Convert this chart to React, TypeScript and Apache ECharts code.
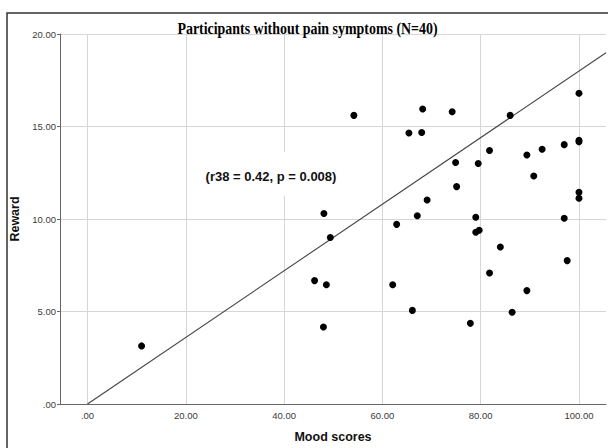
import React, { useEffect, useRef } from "react";
import * as echarts from "echarts";

const moodScores: number[] = [
  11.0, 46.2, 48.0, 48.1, 48.6, 49.4, 54.2, 62.1, 62.9, 65.4,
  66.1, 67.1, 68.0, 68.2, 69.1, 74.2, 74.9, 75.1, 77.9, 79.0,
  79.0, 79.5, 79.7, 81.8, 81.8, 84.0, 86.0, 86.4, 89.4, 89.4,
  90.8, 92.5, 97.0, 97.0, 97.6, 100.0, 100.0, 100.0, 100.0, 100.0,
];
const rewards: number[] = [
  3.14, 6.67, 4.16, 10.3, 6.45, 9.0, 15.6, 6.45, 9.71, 14.65,
  5.06, 10.18, 14.68, 15.95, 11.03, 15.8, 13.05, 11.75, 4.36, 10.09,
  9.28, 13.0, 9.39, 13.7, 7.08, 8.49, 15.6, 4.96, 13.46, 6.13,
  12.32, 13.77, 14.02, 10.04, 7.75, 16.8, 14.18, 14.25, 11.44, 11.12,
];
const fitLineX: number[] = [0, 105.5];
const fitLineY: number[] = [0, 18.99];
const xTicks: number[] = [0, 20, 40, 60, 80, 100];

const title = "Participants without pain symptoms (N=40)";
const annotation = "(r38 = 0.42, p = 0.008)";
const xName = "Mood scores";
const yName = "Reward";

const fmt = (v: number) => (v === 0 ? ".00" : v.toFixed(2));

export default function App() {
  const ref = useRef<HTMLDivElement>(null);
  useEffect(() => {
    if (!ref.current) return;
    const chart = echarts.init(ref.current, null, { renderer: "svg" });
    const points = moodScores.map((x, i) => [x, rewards[i]]);
    const line = fitLineX.map((x, i) => [x, fitLineY[i]]);
    chart.setOption({
      animation: false,
      backgroundColor: "#ffffff",
      grid: { left: 60, top: 34, width: 546, height: 370, containLabel: false },
      xAxis: {
        type: "value",
        min: -5.6,
        max: 105.5,
        name: xName,
        nameLocation: "middle",
        nameGap: 26,
        nameTextStyle: { fontFamily: "Liberation Sans", fontWeight: "bold", fontSize: 12.5, color: "#111" },
        axisLine: { onZero: false, lineStyle: { color: "#666", width: 1 } },
        axisTick: { show: false, customValues: xTicks },
        axisLabel: {
          customValues: xTicks,
          formatter: (v: number) => fmt(v),
          fontFamily: "Liberation Sans",
          fontSize: 9.5,
          color: "#3a3a3a",
          margin: 6,
        },
        splitLine: { show: true, lineStyle: { color: "#d6d6d6", width: 1 } },
      },
      yAxis: {
        type: "value",
        min: 0,
        max: 20,
        interval: 5,
        name: yName,
        nameLocation: "middle",
        nameGap: 25,
        nameRotate: 90,
        nameTextStyle: { fontFamily: "Liberation Sans", fontWeight: "bold", fontSize: 12.5, color: "#111" },
        axisLine: { show: true, onZero: false, lineStyle: { color: "#666", width: 1 } },
        axisTick: { show: true, length: 3, lineStyle: { color: "#666" } },
        axisLabel: {
          formatter: (v: number) => fmt(v),
          fontFamily: "Liberation Sans",
          fontSize: 9.5,
          color: "#3a3a3a",
          margin: 4,
        },
        splitLine: { show: true, lineStyle: { color: "#d6d6d6", width: 1 } },
      },
      graphic: [
        {
          type: "rect",
          shape: { x: 7, y: 13, width: 640, height: 480 },
          style: { fill: "none", stroke: "#333", lineWidth: 1.5 },
          silent: true,
          z: 10,
        },
        {
          type: "rect",
          shape: { x: 200, y: 152, width: 146, height: 44 },
          style: { fill: "#ffffff" },
          z: 5,
          silent: true,
        },
        {
          type: "text",
          x: 271,
          y: 176,
          z: 6,
          style: {
            text: annotation,
            fontFamily: "Liberation Sans",
            fontWeight: "bold",
            fontSize: 13,
            fill: "#111",
            align: "center",
            verticalAlign: "middle",
          },
        },
        {
          type: "text",
          x: 307.5,
          y: 28,
          scaleX: 0.82,
          z: 6,
          style: {
            text: title,
            fontFamily: "Liberation Serif",
            fontWeight: "bold",
            fontSize: 17,
            fill: "#000",
            align: "center",
            verticalAlign: "middle",
          },
        },
      ],
      series: [
        {
          type: "line",
          data: line,
          symbol: "none",
          lineStyle: { color: "#444", width: 1.1 },
          z: 3,
        },
        {
          type: "scatter",
          data: points,
          symbol: "circle",
          symbolSize: 7,
          itemStyle: { color: "#000", opacity: 1 },
          z: 4,
        },
      ],
    });
    return () => chart.dispose();
  }, []);
  return (
    <div
      ref={ref}
      style={{ position: "absolute", left: 0, top: 0, width: 608, height: 448 }}
    />
  );
}
